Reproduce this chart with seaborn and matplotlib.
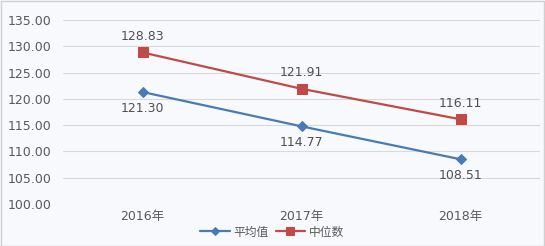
import matplotlib
matplotlib.use("Agg")
import matplotlib.pyplot as plt
import seaborn as sns
import pandas as pd

years = ["2016年", "2017年", "2018年"]
mean_vals = [121.30, 114.77, 108.51]
median_vals = [128.83, 121.91, 116.11]
series_names = ["平均值", "中位数"]

sns.set_style("white")
plt.rcParams['font.family'] = ['DejaVu Sans', 'Noto Sans CJK SC']

df = pd.DataFrame({"year": years * 2,
                   "value": mean_vals + median_vals,
                   "series": [series_names[0]] * 3 + [series_names[1]] * 3})

fig = plt.figure(figsize=(5.45, 2.46), dpi=100)
fig.patch.set_facecolor("#f7f9fc")
ax = fig.add_axes([63/545, 1-204/246, 477/545, 184/246])
ax.set_facecolor("#f7f9fc")

colors = {"平均值": "#4a7ab5", "中位数": "#bf4a48"}
markers = {"平均值": "D", "中位数": "s"}
sizes = {"平均值": 5, "中位数": 7}
for name in series_names:
    sub = df[df.series == name]
    sns.lineplot(data=sub, x="year", y="value", ax=ax, color=colors[name],
                 marker=markers[name], markersize=sizes[name], linewidth=1.6,
                 markeredgecolor=colors[name], label=name, sort=False)

ax.set_xlim(-0.5, 2.5)
ax.set_ylim(100, 135)
ax.set_yticks([100, 105, 110, 115, 120, 125, 130, 135])
ax.set_yticklabels([f"{v:.2f}" for v in ax.get_yticks()])
ax.yaxis.grid(True, color="#d9d9d9", linewidth=0.8)
ax.set_axisbelow(True)
for s in ax.spines.values():
    s.set_visible(False)
ax.tick_params(axis="y", length=0, labelsize=9, labelcolor="#595959", pad=8)
ax.tick_params(axis="x", length=0, labelsize=9, labelcolor="#595959", pad=4)
ax.set_xlabel("")
ax.set_ylabel("")

for i, v in enumerate(median_vals):
    ax.annotate(f"{v:.2f}", (i, v), xytext=(0, 7), textcoords="offset points",
                ha="center", va="bottom", fontsize=9, color="#505050")
for i, v in enumerate(mean_vals):
    ax.annotate(f"{v:.2f}", (i, v), xytext=(0, -7), textcoords="offset points",
                ha="center", va="top", fontsize=9, color="#505050")

leg = ax.legend(loc="center", bbox_to_anchor=(272/545, 1-232/246),
                bbox_transform=fig.transFigure, ncol=2, frameon=False,
                fontsize=8.5, handlelength=2.5, columnspacing=0.6, handletextpad=0.3,
                labelcolor="#595959", markerscale=0.8, borderpad=0.2)

fig.add_artist(plt.Rectangle((0.001, 0.002), 0.997, 0.995, transform=fig.transFigure,
                             fill=False, edgecolor="#d0d0d0", linewidth=1))
fig.savefig("out.png", dpi=100, facecolor=fig.get_facecolor())
